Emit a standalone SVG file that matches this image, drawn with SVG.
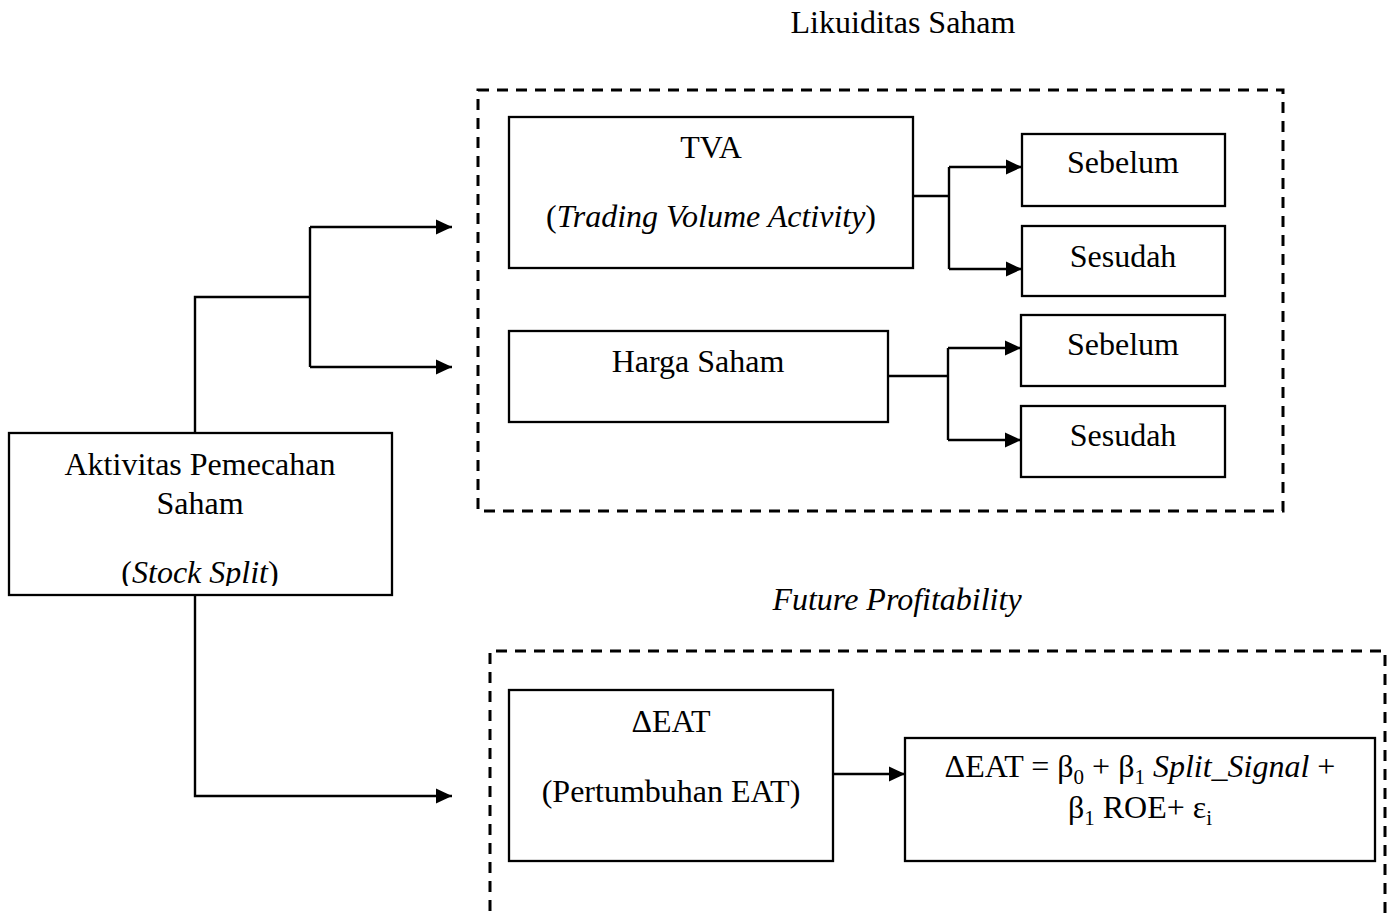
<svg xmlns="http://www.w3.org/2000/svg" width="1395" height="915" viewBox="0 0 1395 915">
<style>
text{font-family:"Liberation Serif","Times New Roman",serif;font-size:32px;fill:#000}
.c{text-anchor:middle}
.i{font-style:italic}
.box{fill:#fff;stroke:#000;stroke-width:2.3}
.dash{fill:none;stroke:#000;stroke-width:3;stroke-dasharray:11 8}
.ln{fill:none;stroke:#000;stroke-width:2.4}
.sub{font-size:21px}
</style>
<defs>
<marker id="ah" markerUnits="userSpaceOnUse" markerWidth="16" markerHeight="16" refX="16" refY="8" orient="auto">
<path d="M0,0.5 L16,8 L0,15.5 Z" fill="#000"/>
</marker>
<clipPath id="clipA"><rect x="0" y="0" width="1395" height="586"/></clipPath>
</defs>
<rect width="1395" height="915" fill="#fff"/>

<text class="c" x="903" y="33">Likuiditas Saham</text>
<text class="c i" x="897" y="610">Future Profitability</text>

<rect class="dash" x="478" y="90" width="805" height="421"/>
<path class="dash" d="M490,930 L490,651 L1385,651 L1385,930"/>

<g id="connectors">
<path class="ln" d="M195,433 L195,297 L310,297"/>
<path class="ln" d="M310,227 L310,367"/>
<path class="ln" d="M310,227 L452,227" marker-end="url(#ah)"/>
<path class="ln" d="M310,367 L452,367" marker-end="url(#ah)"/>
<path class="ln" d="M195,595 L195,796 L452,796" marker-end="url(#ah)"/>
<path class="ln" d="M913,196 L949,196"/>
<path class="ln" d="M949,167 L949,269"/>
<path class="ln" d="M949,167 L1022,167" marker-end="url(#ah)"/>
<path class="ln" d="M949,269 L1022,269" marker-end="url(#ah)"/>
<path class="ln" d="M888,376 L948,376"/>
<path class="ln" d="M948,348 L948,440"/>
<path class="ln" d="M948,348 L1021,348" marker-end="url(#ah)"/>
<path class="ln" d="M948,440 L1021,440" marker-end="url(#ah)"/>
<path class="ln" d="M833,774 L905,774" marker-end="url(#ah)"/>
</g>

<g id="aktivitas">
<rect class="box" x="9" y="433" width="383" height="162"/>
<text class="c" x="200" y="475">Aktivitas Pemecahan</text>
<text class="c" x="200" y="514">Saham</text>
<text class="c" x="200" y="583" clip-path="url(#clipA)">(<tspan class="i">Stock Split</tspan>)</text>
</g>

<g id="tva">
<rect class="box" x="509" y="117" width="404" height="151"/>
<text class="c" x="711" y="158">TVA</text>
<text class="c" x="711" y="227">(<tspan class="i">Trading Volume Activity</tspan>)</text>
</g>

<g id="harga">
<rect class="box" x="509" y="331" width="379" height="91"/>
<text class="c" x="698" y="372">Harga Saham</text>
</g>

<g id="sebelum1">
<rect class="box" x="1022" y="134" width="203" height="72"/>
<text class="c" x="1123" y="173">Sebelum</text>
</g>
<g id="sesudah1">
<rect class="box" x="1022" y="226" width="203" height="70"/>
<text class="c" x="1123" y="267">Sesudah</text>
</g>
<g id="sebelum2">
<rect class="box" x="1021" y="315" width="204" height="71"/>
<text class="c" x="1123" y="355">Sebelum</text>
</g>
<g id="sesudah2">
<rect class="box" x="1021" y="406" width="204" height="71"/>
<text class="c" x="1123" y="446">Sesudah</text>
</g>

<g id="deltaeat">
<rect class="box" x="509" y="690" width="324" height="171"/>
<text class="c" x="671" y="732">ΔEAT</text>
<text class="c" x="671" y="802">(Pertumbuhan EAT)</text>
</g>

<g id="formula">
<rect class="box" x="905" y="738" width="470" height="123"/>
<text class="c" x="1140" y="777">ΔEAT = β<tspan class="sub" dy="7">0</tspan><tspan dy="-7"> + β</tspan><tspan class="sub" dy="7">1</tspan><tspan dy="-7"> </tspan><tspan class="i">Split_Signal</tspan> +</text>
<text class="c" x="1140" y="818">β<tspan class="sub" dy="7">1</tspan><tspan dy="-7"> ROE+ ε</tspan><tspan class="sub" dy="7">i</tspan></text>
</g>
</svg>
